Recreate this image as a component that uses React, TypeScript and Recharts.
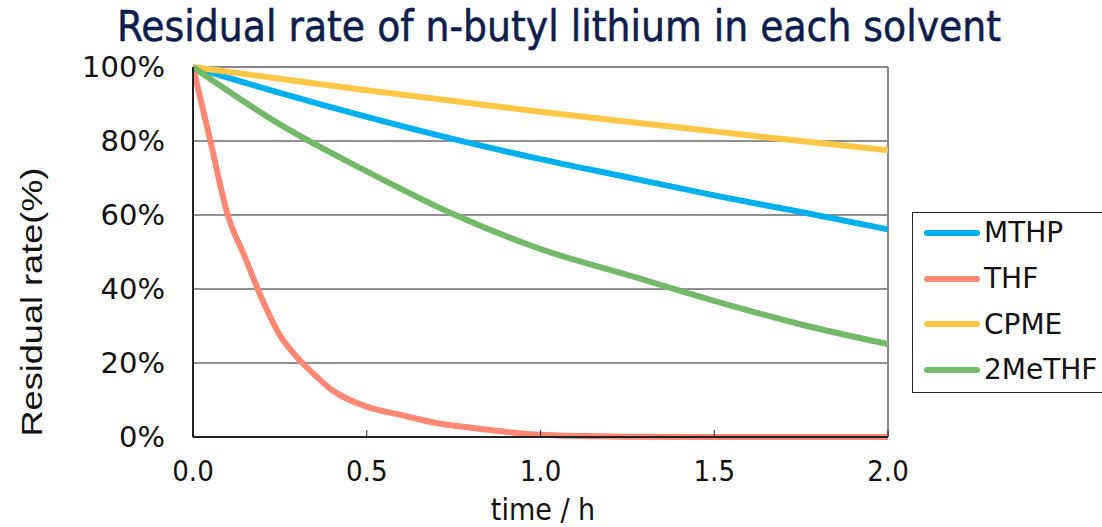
import { LineChart, Line, XAxis, YAxis, CartesianGrid, ReferenceLine } from "recharts";

// THF was sampled more densely at the start
const thfTime = [0, 0.05, 0.1, 0.15, 0.2, 0.25, 0.3, 0.35, 0.4, 0.5, 0.6, 0.7, 0.8, 0.9, 1.0, 1.25, 1.5, 1.75, 2.0];
const thfRate = [100, 80, 60, 48.5, 37, 27.5, 21.5, 16.8, 12.7, 8.2, 5.9, 3.8, 2.5, 1.4, 0.6, 0.1, 0, 0, 0];

const time = [0, 0.25, 0.5, 0.75, 1.0, 1.25, 1.5, 1.75, 2.0];
const mthpRate = [100, 93.0, 86.5, 80.5, 75.1, 70.2, 65.3, 60.8, 56.1];
const cpmeRate = [100, 96.8, 93.7, 90.8, 87.9, 85.2, 82.6, 80.0, 77.5];
const meThfRate = [100, 84.5, 71.8, 60.2, 50.8, 43.8, 36.8, 30.4, 25.1];

const xTicks = [0, 0.5, 1.0, 1.5, 2.0];
const yTicks = [0, 20, 40, 60, 80, 100];

const toPoints = (t: number[], v: number[]) => t.map((x, i) => ({ t: x, v: v[i] }));

const series = [
  { name: "MTHP", color: "#00B0EE", data: toPoints(time, mthpRate) },
  { name: "THF", color: "#FF8874", data: toPoints(thfTime, thfRate) },
  { name: "CPME", color: "#FFC745", data: toPoints(time, cpmeRate) },
  { name: "2MeTHF", color: "#74B96A", data: toPoints(time, meThfRate) },
];

const tickFont = { fontFamily: "DejaVu Sans", fontSize: 29, fill: "#111" };

export default function App() {
  return (
    <div style={{ position: "relative", width: 1102, height: 527, background: "#fff", overflow: "hidden" }}>
      <style>{`body{margin:0}`}</style>
      <div
        style={{
          position: "absolute",
          top: 2,
          left: 0,
          width: 1118,
          textAlign: "center",
          fontFamily: "DejaVu Sans Condensed",
          fontSize: 42,
          lineHeight: "50px",
          color: "#0d1d4c",
          WebkitTextStroke: "0.5px #0d1d4c",
        }}
      >
        Residual rate of n-butyl lithium in each solvent
      </div>

      <LineChart
        width={1102}
        height={527}
        margin={{ top: 67, right: 214, bottom: 0, left: 83 }}
      >
        <CartesianGrid horizontal vertical={false} stroke="#222" strokeWidth={1} />
        <XAxis
          type="number"
          dataKey="t"
          domain={[0, 2]}
          ticks={xTicks}
          tickFormatter={(v: number) => v.toFixed(1)}
          allowDataOverflow
          axisLine={{ stroke: "#222", strokeWidth: 2 }}
          tickLine={{ stroke: "#222" }}
          tickSize={-7}
          tickMargin={30}
          tick={{ ...tickFont, fontFamily: "DejaVu Sans Condensed" }}
          height={90}
        />
        <YAxis
          type="number"
          domain={[0, 100]}
          ticks={yTicks}
          tickFormatter={(v: number) => `${v}%`}
          axisLine={{ stroke: "#222", strokeWidth: 2 }}
          tickLine={false}
          tickSize={0}
          tickMargin={28}
          tick={tickFont}
          width={110}
        />
        <ReferenceLine y={100} stroke="#888" strokeWidth={2} />
        <ReferenceLine x={2} stroke="#888" strokeWidth={2} />
        {series.map((s) => (
          <Line
            key={s.name}
            data={s.data}
            dataKey="v"
            type="monotone"
            stroke={s.color}
            strokeWidth={6}
            dot={false}
            isAnimationActive={false}
          />
        ))}
      </LineChart>

      <svg style={{ position: "absolute", left: 0, top: 150, width: 60, height: 300 }}>
        <text
          transform="translate(42,152) rotate(-90)"
          textAnchor="middle"
          fontFamily="Liberation Sans"
          fontSize={29}
          textLength={269}
          lengthAdjust="spacingAndGlyphs"
          fill="#111"
        >
          Residual rate(%)
        </text>
      </svg>

      <div
        style={{
          position: "absolute",
          left: 0,
          width: 1086,
          top: 493,
          textAlign: "center",
          fontFamily: "DejaVu Sans Condensed",
          fontSize: 30,
          lineHeight: "34px",
          color: "#111",
        }}
      >
        time / h
      </div>

      <div
        style={{
          position: "absolute",
          left: 912,
          top: 212,
          width: 200,
          height: 181,
          border: "1px solid #222",
          boxSizing: "border-box",
        }}
      >
        <div style={{ marginTop: -3 }}>
          {series.map((s) => (
            <div key={s.name} style={{ display: "flex", alignItems: "center", height: 45.7 }}>
              <div
                style={{
                  marginLeft: 11,
                  width: 56,
                  height: 6,
                  borderRadius: 3,
                  background: s.color,
                }}
              />
              <span style={{ marginLeft: 4, fontFamily: "DejaVu Sans", fontSize: 28, color: "#111" }}>{s.name}</span>
            </div>
          ))}
        </div>
      </div>
    </div>
  );
}
